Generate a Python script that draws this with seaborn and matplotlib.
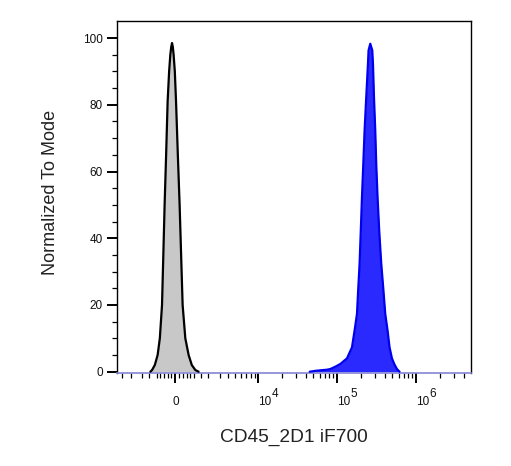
import numpy as np
import pandas as pd
import seaborn as sns
import matplotlib
matplotlib.use("Agg")
import matplotlib.pyplot as plt
from matplotlib.ticker import FixedLocator, FixedFormatter, NullFormatter

# histogram outlines (fluorescence value, % of mode)
control_x = [-1420, -1310, -1135, -965, -836, -712, -639, -568, -486, -405, -325, -262, -215, -172,
             -130, -89, -26, 37, 131, 225, 304, 384, 529, 712, 894, 1104, 1310]
control_y = [0, 0.5, 2, 5, 10, 20, 35, 50, 65, 81, 90, 95, 97.3, 98.5,
             97.3, 95, 90, 81, 65, 50, 35, 20, 10, 5, 2, 0.5, 0]

stained_x = [45000, 55000, 74500, 82000, 95000, 109800, 133500, 154400, 166500, 178600, 185500,
             192700, 199500, 206600, 214600, 223000, 234100, 246100, 250400, 263200, 279000,
             284700, 293200, 304300, 313500, 325400, 342000, 362600, 384400,
             407300, 435900, 461700, 495000, 529500, 572800, 617600]
stained_y = [0, 0.3, 0.6, 0.8, 1.5, 2.3, 4, 7.3, 12.3, 17.3, 25,
             32.3, 42, 52.3, 62, 72.3, 82.3, 92.3, 96.3, 98.3, 96.3,
             92.3, 82.3, 72.3, 62, 52.3, 42, 32.3, 25,
             17.3, 12.3, 7.3, 4, 2.3, 0.8, 0]

x_major = [0, 1e4, 1e5, 1e6]
x_major_labels = ['0', '10', '10', '10']
x_sup = ['4', '5', '6']
x_minor = ([-4000, -3000, -2000, -1500, -1000, -800, -600, -400, -200,
            200, 400, 600, 800, 1000, 1500]
           + [k * 1000 for k in range(2, 10)]
           + [k * 1e4 for k in range(2, 10)]
           + [k * 1e5 for k in range(2, 10)]
           + [k * 1e6 for k in range(2, 5)])

C = 1790.0  # asinh width, a stand-in for the biexponential display


def fwd(x):
    return np.arcsinh(np.asarray(x, dtype=float) / C) / np.log(10)


def inv(y):
    return C * np.sinh(np.asarray(y, dtype=float) * np.log(10))


sns.set_style('ticks')
plt.rcParams['font.family'] = ['Liberation Sans', 'DejaVu Sans']

df = pd.concat([
    pd.DataFrame({'x': control_x, 'y': control_y, 'sample': 'control'}),
    pd.DataFrame({'x': stained_x, 'y': stained_y, 'sample': 'stained'}),
])

fig = plt.figure(figsize=(5.11, 4.66), dpi=100)
ax = fig.add_axes([0.2296, 0.2002, 0.6921, 0.7554])
ax.set_xscale('function', functions=(fwd, inv))

ax.fill_between(control_x, control_y, color='#c8c8c8', lw=0, zorder=2)
ax.fill_between(stained_x, stained_y, color='#2a2aff', lw=0, zorder=2)
sns.lineplot(data=df, x='x', y='y', hue='sample', palette={'control': 'black', 'stained': '#0000ee'},
             units='sample', estimator=None, lw=1.6, legend=False, ax=ax, zorder=3)

ax.set_xlim(-4690, 4.96e6)
ax.set_ylim(-0.3, 105.2)

ax.xaxis.set_major_locator(FixedLocator(x_major))
ax.xaxis.set_major_formatter(FixedFormatter(x_major_labels))
ax.xaxis.set_minor_locator(FixedLocator(x_minor))
ax.xaxis.set_minor_formatter(NullFormatter())
ax.set_yticks(range(0, 101, 20))
ax.set_yticks(range(0, 101, 5), minor=True)

ax.tick_params(which='major', length=7, width=1.4, color='black', labelsize=8.5, labelcolor='#111111')
ax.tick_params(which='minor', length=3.5, width=0.9, color='black')
ax.tick_params(axis='x', which='major', pad=16.2)
for i, lab in enumerate(ax.get_xticklabels()):
    lab.set_verticalalignment('baseline')
    if i > 0:
        lab.set_horizontalalignment('left')

for xv, sup in zip(x_major[1:], x_sup):
    ax.annotate(sup, xy=(xv, 0), xycoords=('data', 'axes fraction'), xytext=(9.3, -17.3),
                textcoords='offset points', fontsize=8.5, color='#111111',
                ha='left', va='baseline', annotation_clip=False)

for s in ax.spines.values():
    s.set_visible(True)
    s.set_color('black')
    s.set_linewidth(1.0)
ax.spines['bottom'].set_color('#8484d4')
ax.spines['bottom'].set_linewidth(1.2)

ax.set_xlabel('CD45_2D1 iF700', fontsize=13.8, color='#222222')
ax.set_ylabel('Normalized To Mode', fontsize=13, color='#222222')
ax.xaxis.set_label_coords(0.5, -0.158)
ax.yaxis.set_label_coords(-0.165, 0.513)

fig.savefig('out.png', dpi=100)
